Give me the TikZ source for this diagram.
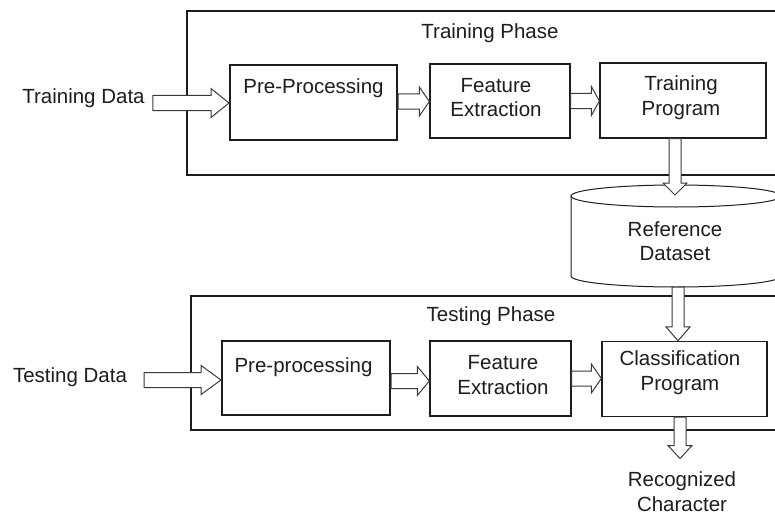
\documentclass[tikz,border=0pt]{standalone}
\usepackage{fontspec}
\setmainfont{Liberation Sans}
\usetikzlibrary{calc}

\definecolor{ink}{HTML}{1E1E1E}
\definecolor{arr}{HTML}{3A3A3A}

\tikzset{
  txt/.style={font=\fontsize{20.5}{24.5}\selectfont, text=ink, align=center, inner sep=0pt},
  blk/.style={draw=ink, line width=1.3pt, fill=white, inner sep=0pt},
  fat/.style={draw=arr, line width=1pt, fill=white, line join=miter},
}

% block arrow to the right: [head length]{from}{to}
\newcommand{\fatright}[3][10pt]{%
  \draw[fat] let \p1=(#2), \p2=(#3) in
    (\x1,\y1+7.5pt) -- (\x2-#1,\y1+7.5pt) -- (\x2-#1,\y1+14.5pt) -- (\x2,\y1)
    -- (\x2-#1,\y1-14.5pt) -- (\x2-#1,\y1-7.5pt) -- (\x1,\y1-7.5pt) -- cycle;}
% block arrow downwards: [head length]{from}{to}
\newcommand{\fatdown}[3][13pt]{%
  \draw[fat] let \p1=(#2), \p2=(#3) in
    (\x1-6pt,\y1) -- (\x1-6pt,\y2+#1) -- (\x1-12pt,\y2+#1) -- (\x1,\y2)
    -- (\x1+12pt,\y2+#1) -- (\x1+6pt,\y2+#1) -- (\x1+6pt,\y1) -- cycle;}

\begin{document}
\begin{tikzpicture}[x=1pt,y=-1pt]
  \clip (0,0) rectangle (775,516);
  \fill[white] (0,0) rectangle (775,516);

  % the two phases
  \draw[draw=ink, line width=2pt] (187,11) rectangle (800,175);
  \draw[draw=ink, line width=1.6pt] (191,296) rectangle (800,430);
  \node[txt] (trphase) at (490,33) {Training Phase};
  \node[txt] (tsphase) at (491,316) {Testing Phase};

  % training row
  \node[txt] (tdata) at (83.5,98) {Training Data};
  \node[blk, line width=2pt, minimum width=167, minimum height=75] (pre1) at (313.5,102.5) {};
  \node[blk, minimum width=140, minimum height=74] (feat1) at (500,101) {};
  \node[blk, minimum width=166, minimum height=75] (train1) at (683,100.5) {};
  \node[txt] (pre1t) at (313.5,88) {Pre-Processing};
  \node[txt] (feat1t) at (496,97.5) {Feature\\Extraction};
  \node[txt] (train1t) at (681,97.5) {Training\\Program};

  % reference dataset
  \draw[draw=ink, line width=1pt, fill=white] (571,196) -- (571,276)
    arc[start angle=180, end angle=360, x radius=105pt, y radius=11pt] -- (781,196);
  \draw[draw=ink, line width=1pt, fill=white] (676,196) ellipse[x radius=105pt, y radius=11pt];
  \coordinate (dbtop) at (675,195);
  \coordinate (dbbot) at (678,287);
  \node[txt] (db) at (675,241) {Reference\\Dataset};

  % testing row
  \node[txt] (tsdata) at (70,377) {Testing Data};
  \node[blk, line width=2pt, minimum width=168, minimum height=74] (pre2) at (306,378) {};
  \node[blk, minimum width=141, minimum height=75] (feat2) at (500.5,378.5) {};
  \node[blk, minimum width=165, minimum height=75] (class2) at (684.5,379) {};
  \node[txt] (pre2t) at (303.5,367) {Pre-processing};
  \node[txt] (feat2t) at (503,375) {Feature\\Extraction};
  \node[txt] (class2t) at (680,372.5) {Classification\\Program};
  \node[txt] (rec) at (682,491.5) {Recognized\\Character};

  % block arrows
  \fatright[18pt]{[xshift=8pt,yshift=-5pt]tdata.east}{pre1.west}
  \fatright{[yshift=1pt]pre1.east}{feat1.west}
  \fatright[8pt]{feat1.east}{train1.west}
  \fatdown[12pt]{[xshift=-8pt]train1.south}{dbtop}
  \fatdown[14pt]{dbbot}{class2.north}
  \fatright[20pt]{[xshift=17pt,yshift=-3pt]tsdata.east}{pre2.west}
  \fatright[12pt]{[yshift=-3pt]pre2.east}{feat2.west}
  \fatright{feat2.east}{class2.west}
  \fatdown{[xshift=-4.5pt]class2.south}{[yshift=13pt]rec.north}
\end{tikzpicture}
\end{document}
